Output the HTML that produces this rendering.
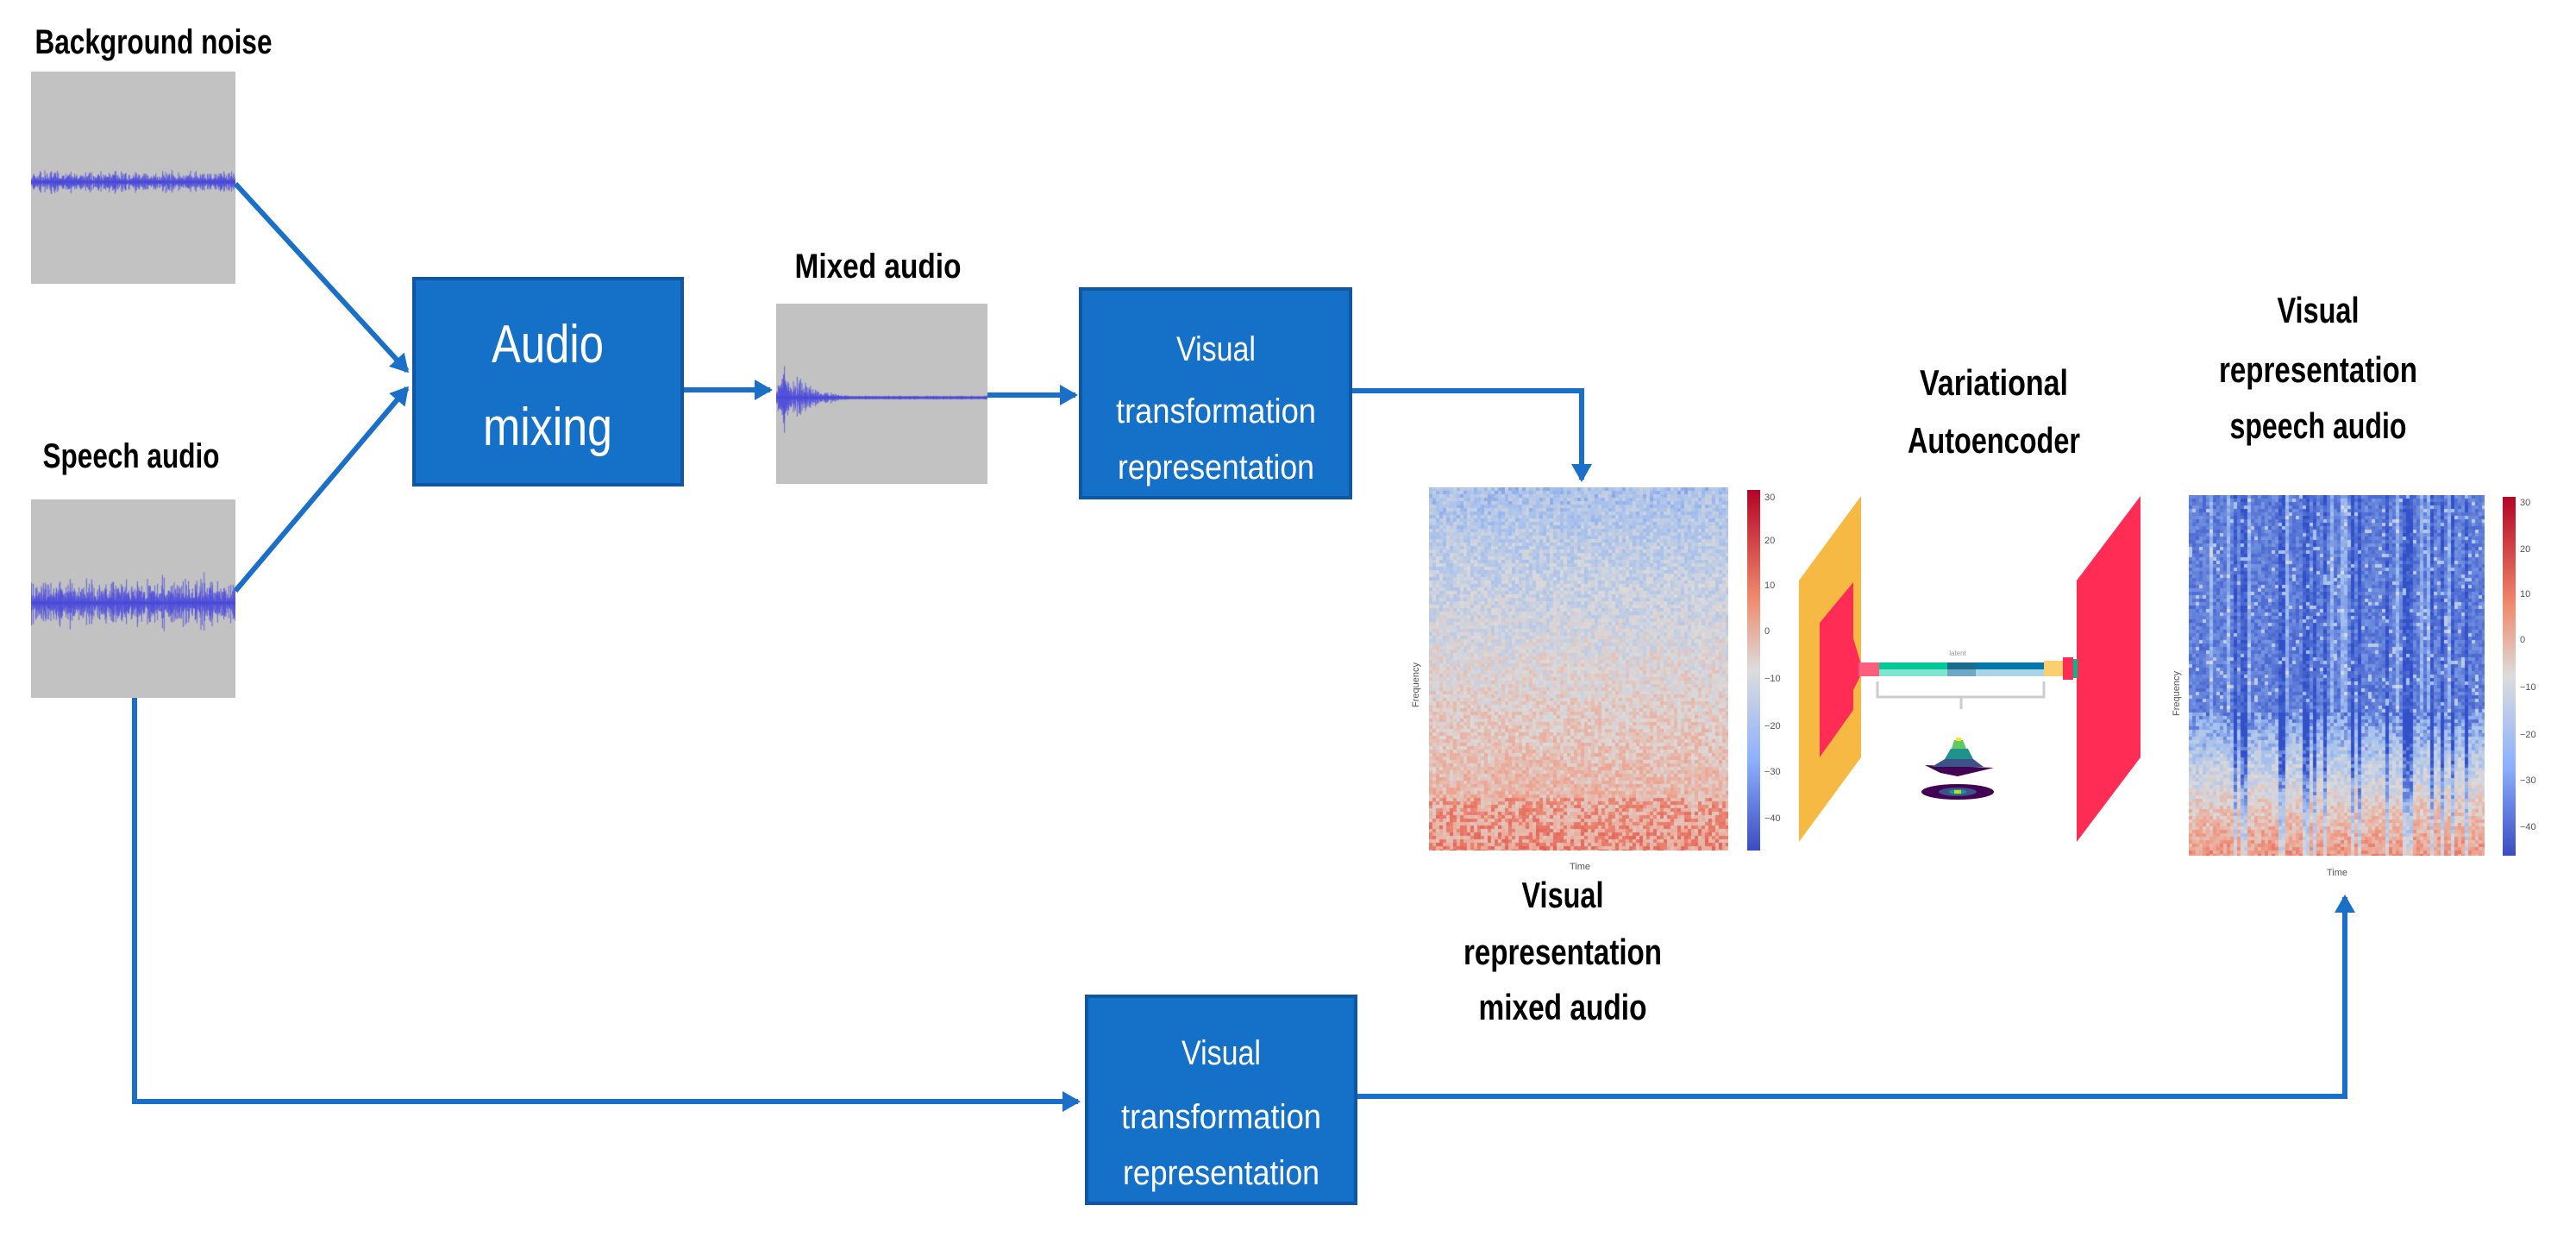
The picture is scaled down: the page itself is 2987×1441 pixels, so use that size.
<!DOCTYPE html>
<html><head><meta charset="utf-8"><style>
html,body{margin:0;padding:0;background:#fff;}
#w{position:relative;width:2987px;height:1441px;overflow:hidden;background:#fff;}
canvas{position:absolute;}
svg{position:absolute;left:0;top:0;}
</style></head><body><div id="w">
<canvas id="g1" width="237" height="246" style="left:36px;top:83px"></canvas>
<canvas id="g2" width="237" height="230" style="left:36px;top:579px"></canvas>
<canvas id="g3" width="245" height="209" style="left:900px;top:352px"></canvas>
<canvas id="s1" width="347" height="421" style="left:1657px;top:565px"></canvas>
<canvas id="s2" width="343" height="418" style="left:2538px;top:574px"></canvas>
<svg width="2987" height="1441" viewBox="0 0 2987 1441" font-family="Liberation Sans, sans-serif">
<defs>
<marker id="ah" markerWidth="4" markerHeight="4" refX="3" refY="2" orient="auto" markerUnits="strokeWidth"><path d="M0,0 L3.5,2 L0,4 Z" fill="#1a6fc8"/></marker>
<linearGradient id="cb1" x1="0" y1="0" x2="0" y2="1"><stop offset="0" stop-color="#b40426"/><stop offset="0.3" stop-color="#f08a6c"/><stop offset="0.5" stop-color="#dcdcdc"/><stop offset="0.75" stop-color="#8db0fe"/><stop offset="1" stop-color="#3b4cc0"/></linearGradient>
</defs>
<g stroke="#1a6fc8" stroke-width="6" fill="none">
<line x1="273" y1="213" x2="472" y2="430" marker-end="url(#ah)"/>
<line x1="273" y1="685" x2="472" y2="450" marker-end="url(#ah)"/>
<line x1="791" y1="452" x2="893" y2="452" marker-end="url(#ah)"/>
<line x1="1145" y1="458" x2="1247" y2="458" marker-end="url(#ah)"/>
<polyline points="1566,453 1834,453 1834,556" marker-end="url(#ah)"/>
<polyline points="156,809 156,1277 1250,1277" marker-end="url(#ah)"/>
<polyline points="1572,1271 2719,1271 2719,1040" marker-end="url(#ah)"/>
</g>
<g fill="#1570c8" stroke="#0f56a3" stroke-width="4">
<rect x="480" y="323" width="311" height="239"/>
<rect x="1253" y="335" width="313" height="242"/>
<rect x="1260" y="1155" width="312" height="240"/>
</g>
<g fill="#fff" text-anchor="middle">
<text x="635" y="420" font-size="62" textLength="130" lengthAdjust="spacingAndGlyphs">Audio</text>
<text x="635" y="516" font-size="62" textLength="150" lengthAdjust="spacingAndGlyphs">mixing</text>
<text x="1410" y="418" font-size="40" textLength="92" lengthAdjust="spacingAndGlyphs">Visual</text>
<text x="1410" y="490" font-size="40" textLength="232" lengthAdjust="spacingAndGlyphs">transformation</text>
<text x="1410" y="555" font-size="40" textLength="228" lengthAdjust="spacingAndGlyphs">representation</text>
<text x="1416" y="1234" font-size="40" textLength="92" lengthAdjust="spacingAndGlyphs">Visual</text>
<text x="1416" y="1308" font-size="40" textLength="232" lengthAdjust="spacingAndGlyphs">transformation</text>
<text x="1416" y="1373" font-size="40" textLength="228" lengthAdjust="spacingAndGlyphs">representation</text>
</g>
<g fill="#000" font-weight="bold" text-anchor="middle">
<text x="178" y="62" font-size="40" textLength="275" lengthAdjust="spacingAndGlyphs">Background noise</text>
<text x="152" y="542" font-size="40" textLength="205" lengthAdjust="spacingAndGlyphs">Speech audio</text>
<text x="1018" y="322" font-size="40" textLength="193" lengthAdjust="spacingAndGlyphs">Mixed audio</text>
<text x="2312" y="458" font-size="42" textLength="172" lengthAdjust="spacingAndGlyphs">Variational</text>
<text x="2312" y="525" font-size="42" textLength="200" lengthAdjust="spacingAndGlyphs">Autoencoder</text>
<text x="2688" y="374" font-size="42" textLength="95" lengthAdjust="spacingAndGlyphs">Visual</text>
<text x="2688" y="443" font-size="42" textLength="230" lengthAdjust="spacingAndGlyphs">representation</text>
<text x="2688" y="508" font-size="42" textLength="205" lengthAdjust="spacingAndGlyphs">speech audio</text>
<text x="1812" y="1052" font-size="42" textLength="95" lengthAdjust="spacingAndGlyphs">Visual</text>
<text x="1812" y="1118" font-size="42" textLength="230" lengthAdjust="spacingAndGlyphs">representation</text>
<text x="1812" y="1182" font-size="42" textLength="195" lengthAdjust="spacingAndGlyphs">mixed audio</text>
</g>
<rect x="2026" y="568" width="15" height="418" fill="url(#cb1)"/>
<rect x="2902" y="576" width="15" height="416" fill="url(#cb1)"/>
<g font-size="11" fill="#555">
<text x="2046" y="580">30</text><text x="2046" y="630">20</text><text x="2046" y="682">10</text><text x="2046" y="735">0</text><text x="2046" y="790">−10</text><text x="2046" y="845">−20</text><text x="2046" y="898">−30</text><text x="2046" y="952">−40</text>
<text x="2922" y="586">30</text><text x="2922" y="640">20</text><text x="2922" y="692">10</text><text x="2922" y="745">0</text><text x="2922" y="800">−10</text><text x="2922" y="855">−20</text><text x="2922" y="908">−30</text><text x="2922" y="962">−40</text>
<text x="1820" y="1008">Time</text><text x="2698" y="1015">Time</text>
<text transform="translate(1645,820) rotate(-90)">Frequency</text>
<text transform="translate(2527,830) rotate(-90)">Frequency</text>
</g>
<polygon points="2158,575 2158,878 2086,976 2086,673" fill="#f6b944"/>
<polygon points="2149,675 2149,823 2110,878 2110,722" fill="#ff2d55"/>
<polygon points="2149,740 2158,770 2158,782 2149,800" fill="#ff2d55"/>
<polygon points="2482,575 2482,878 2408,976 2408,673" fill="#ff2d55"/>
<rect x="2155" y="768" width="24" height="16" fill="#ff5d7d"/>
<rect x="2179" y="768" width="79" height="8" fill="#00c896"/><rect x="2179" y="776" width="79" height="8" fill="#7ee6cf"/>
<rect x="2258" y="768" width="33" height="8" fill="#1a6c8c"/><rect x="2258" y="776" width="33" height="8" fill="#6fa8c4"/>
<rect x="2291" y="768" width="79" height="8" fill="#0077aa"/><rect x="2291" y="776" width="79" height="8" fill="#a8d4e6"/>
<rect x="2370" y="766" width="22" height="18" fill="#f9cf70"/>
<rect x="2392" y="762" width="12" height="26" fill="#ff2d55"/>
<rect x="2404" y="764" width="5" height="22" fill="#00b88a"/>
<text x="2270" y="760" font-size="8" fill="#999" text-anchor="middle">latent</text>
<polyline points="2177,790 2177,808 2370,808 2370,790" fill="none" stroke="#ccc" stroke-width="3"/>
<line x1="2274" y1="808" x2="2274" y2="822" stroke="#ccc" stroke-width="3"/>
<g>
<polygon points="2232,887 2312,890 2270,900 2250,896" fill="#440154"/>
<polygon points="2255,880 2288,880 2300,889 2240,889" fill="#3b528b"/>
<polygon points="2262,868 2282,868 2288,880 2255,880" fill="#21918c"/>
<polygon points="2266,858 2276,858 2280,868 2263,868" fill="#5ec962"/>
<rect x="2268" y="855" width="6" height="4" fill="#fde725"/>
<ellipse cx="2270" cy="918" rx="42" ry="9" fill="#440154"/>
<ellipse cx="2270" cy="918" rx="22" ry="5" fill="#3b528b"/>
<ellipse cx="2270" cy="918" rx="10" ry="3" fill="#21918c"/>
<rect x="2266" y="916" width="8" height="4" fill="#b5de2b"/>
</g>
</svg>
</div>
<script>
var seed=7;function r(){seed=(seed*16807)%2147483647;return (seed-1)/2147483646;}
function gauss(){return (r()+r()+r()-1.5)/1.5;}
function wave(id,amp,env){var c=document.getElementById(id),x=c.getContext('2d');var W=c.width,H=c.height;
x.fillStyle='#c2c2c2';x.fillRect(0,0,W,H);var cy=Math.round(H*0.52);
x.strokeStyle='rgba(80,80,220,0.85)';x.lineWidth=1;x.beginPath();
for(var i=0;i<W*3;i++){var px=i/3;var a=amp*env(px/W)*gauss();x.moveTo(px,cy-a);x.lineTo(px,cy+a*0.9);}x.stroke();
x.strokeStyle='#4a4ad8';x.lineWidth=3;x.beginPath();x.moveTo(0,cy);x.lineTo(W,cy);x.stroke();}
wave('g1',16,function(t){return 1;});
wave('g2',34,function(t){return 0.8+0.4*r();});
wave('g3',60,function(t){return t<0.03?0.3+t*20:Math.max(0.05,Math.exp(-(t-0.03)*9));});
function spec(id,f){var c=document.getElementById(id),x=c.getContext('2d');var W=c.width,H=c.height;var s=4;
var cols=[];for(var i=0;i<W/s;i++)cols.push(r());
for(var yy=0;yy<H;yy+=s)for(var xx=0;xx<W;xx+=s){x.fillStyle=f(xx/W,yy/H,r(),cols[xx/s|0]);x.fillRect(xx,yy,s,s);}}
function lerp(a,b,t){return [a[0]+(b[0]-a[0])*t,a[1]+(b[1]-a[1])*t,a[2]+(b[2]-a[2])*t];}
function rgb(v){return 'rgb('+(v[0]|0)+','+(v[1]|0)+','+(v[2]|0)+')';}
var BL=[50,80,200],LB=[160,190,240],GR=[220,218,218],SA=[240,160,138],RD=[225,80,70];
function cmap(v){v=Math.max(0,Math.min(1,v));if(v<0.25)return lerp(BL,LB,v/0.25);if(v<0.5)return lerp(LB,GR,(v-0.25)/0.25);if(v<0.75)return lerp(GR,SA,(v-0.5)/0.25);return lerp(SA,RD,(v-0.75)/0.25);}
spec('s1',function(u,v,n,c){var b=0.3+0.42*v+(n-0.5)*0.22;if(v>0.85&&n>0.55)b+=0.12;return rgb(cmap(b));});
spec('s2',function(u,v,n,c){var b;var dark=(c<0.2);if(v<0.6){b=0.05+n*0.12+(c>0.85?0.12:0)-(dark?0.08:0)+(n>0.93?0.2:0);}else{b=0.15+(v-0.6)*1.6+(n-0.5)*0.25-(dark?0.3:0);}return rgb(cmap(b));});
</script>
</body></html>
